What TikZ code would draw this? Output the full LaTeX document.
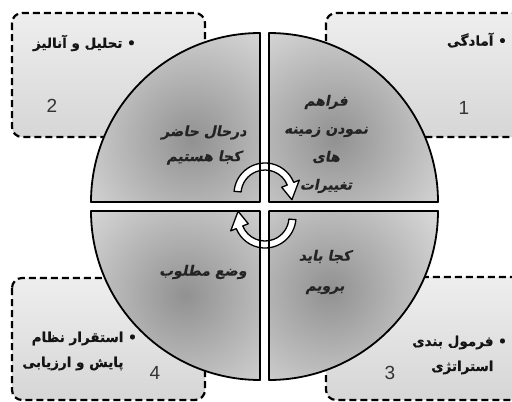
\documentclass[tikz,border=0pt]{standalone}
\usepackage{fontspec}
\setmainfont{Liberation Sans}
\newfontfamily\arfont[Script=Arabic,FakeBold=0.6]{DejaVu Sans Bold}
\newfontfamily\arslant[Script=Arabic,FakeSlant=0.2,FakeBold=0.6]{DejaVu Sans Bold}
\TeXXeTstate=1
\definecolor{qdark}{RGB}{145,145,145}
\definecolor{qlight}{RGB}{232,232,232}
\definecolor{btop}{RGB}{238,238,238}
\definecolor{bbot}{RGB}{214,214,214}
\definecolor{txt}{RGB}{20,20,20}
\definecolor{qtxt}{RGB}{35,35,35}
\begin{document}
\begin{tikzpicture}[x=1pt,y=-1pt,
  dbox/.style={draw=black, line width=2.2pt, dash pattern=on 7pt off 4pt,
    rounded corners=10pt, top color=btop, bottom color=bbot},
  qedge/.style={draw=black, line width=1.8pt, line join=round},
  btext/.style={font=\arfont\fontsize{13.5}{25}\selectfont, text=txt, inner sep=0pt},
  qtext/.style={font=\arslant\fontsize{14}{25}\selectfont, text=qtxt, inner sep=0pt, align=center},
  num/.style={font=\fontsize{19}{20}\selectfont, text=black!80, inner sep=0pt},
  cyc/.style={fill=white, draw=black, line width=1.3pt, line join=round}
]
\useasboundingbox (0,0) rectangle (512,402);
\fill[white] (0,0) rectangle (512,402);

% dashed boxes
\path[dbox] (12,13) rectangle (205,137);
\path[dbox] (326,13) rectangle (530,137);
\path[dbox] (12,278) rectangle (205,400);
\path[dbox] (326,277) rectangle (530,400);

% quadrant fills
\def\R{169}
\begin{scope}
  \clip (269,202) -- ++(\R,0) arc[start angle=0,end angle=-90,radius=\R] -- cycle;
  \shade[inner color=qdark, outer color=qlight] (335,138) circle (160);
\end{scope}
\begin{scope}
  \clip (260,202) -- ++(-\R,0) arc[start angle=180,end angle=270,radius=\R] -- cycle;
  \shade[inner color=qdark, outer color=qlight] (192,140) circle (160);
\end{scope}
\begin{scope}
  \clip (260,211) -- ++(-\R,0) arc[start angle=180,end angle=90,radius=\R] -- cycle;
  \shade[inner color=qdark, outer color=qlight] (185,295) circle (160);
\end{scope}
\begin{scope}
  \clip (269,211) -- ++(\R,0) arc[start angle=0,end angle=90,radius=\R] -- cycle;
  \shade[inner color=qdark, outer color=qlight] (330,290) circle (160);
\end{scope}

% cycle arrows
\begin{scope}[shift={(265,194)}, yscale=-1]
  \path[cyc] (175:31) arc[start angle=175,end angle=22,radius=31] -- (22:37) -- (-12:27.5) -- (22:18) -- (22:24) arc[start angle=22,end angle=175,radius=24] -- cycle;
\end{scope}
\begin{scope}[shift={(265,217)}, rotate=180, yscale=-1]
  \path[cyc] (175:31) arc[start angle=175,end angle=22,radius=31] -- (22:37) -- (-12:27.5) -- (22:18) -- (22:24) arc[start angle=22,end angle=175,radius=24] -- cycle;
\end{scope}

% quadrant outlines
\path[qedge] (269,202) -- ++(\R,0) arc[start angle=0,end angle=-90,radius=\R] -- cycle;
\path[qedge] (260,202) -- ++(-\R,0) arc[start angle=180,end angle=270,radius=\R] -- cycle;
\path[qedge] (260,211) -- ++(-\R,0) arc[start angle=180,end angle=90,radius=\R] -- cycle;
\path[qedge] (269,211) -- ++(\R,0) arc[start angle=0,end angle=90,radius=\R] -- cycle;

% box texts
\node[btext, anchor=east] (b1) at (507,40) {\beginR • آمادگی\endR};
\node[btext, anchor=east] (b2) at (136,43) {\beginR • تحلیل و آنالیز\endR};
\node[btext, anchor=east, align=right] (b3) at (507,355) {\beginR • فرمول بندی\endR\\\beginR\phantom{• }استراتژی\endR};
\node[btext, anchor=east, align=right] (b4) at (137,351) {\beginR • استقرار نظام\endR\\\beginR\phantom{• }پایش و ارزیابی\endR};

% numbers
\node[num] (n1) at (464,108) {1};
\node[num] (n2) at (52,106) {2};
\node[num] (n3) at (390,373) {3};
\node[num] (n4) at (155,373) {4};

% quadrant texts
\node[qtext] (q2) at (204,145) {\beginR درحال حاضر\endR\\\beginR کجا هستیم\endR};
\node[qtext, font=\arslant\fontsize{14}{28}\selectfont] (q1) at (326,144) {\beginR فراهم\endR\\\beginR نمودن زمینه\endR\\\beginR های\endR\\\beginR تغییرات\endR};
\node[qtext, font=\arslant\fontsize{14}{30}\selectfont] (q3) at (325,272) {\beginR کجا باید\endR\\\beginR برویم\endR};
\node[qtext] (q4) at (203,272) {\beginR وضع مطلوب\endR};
\end{tikzpicture}
\end{document}
